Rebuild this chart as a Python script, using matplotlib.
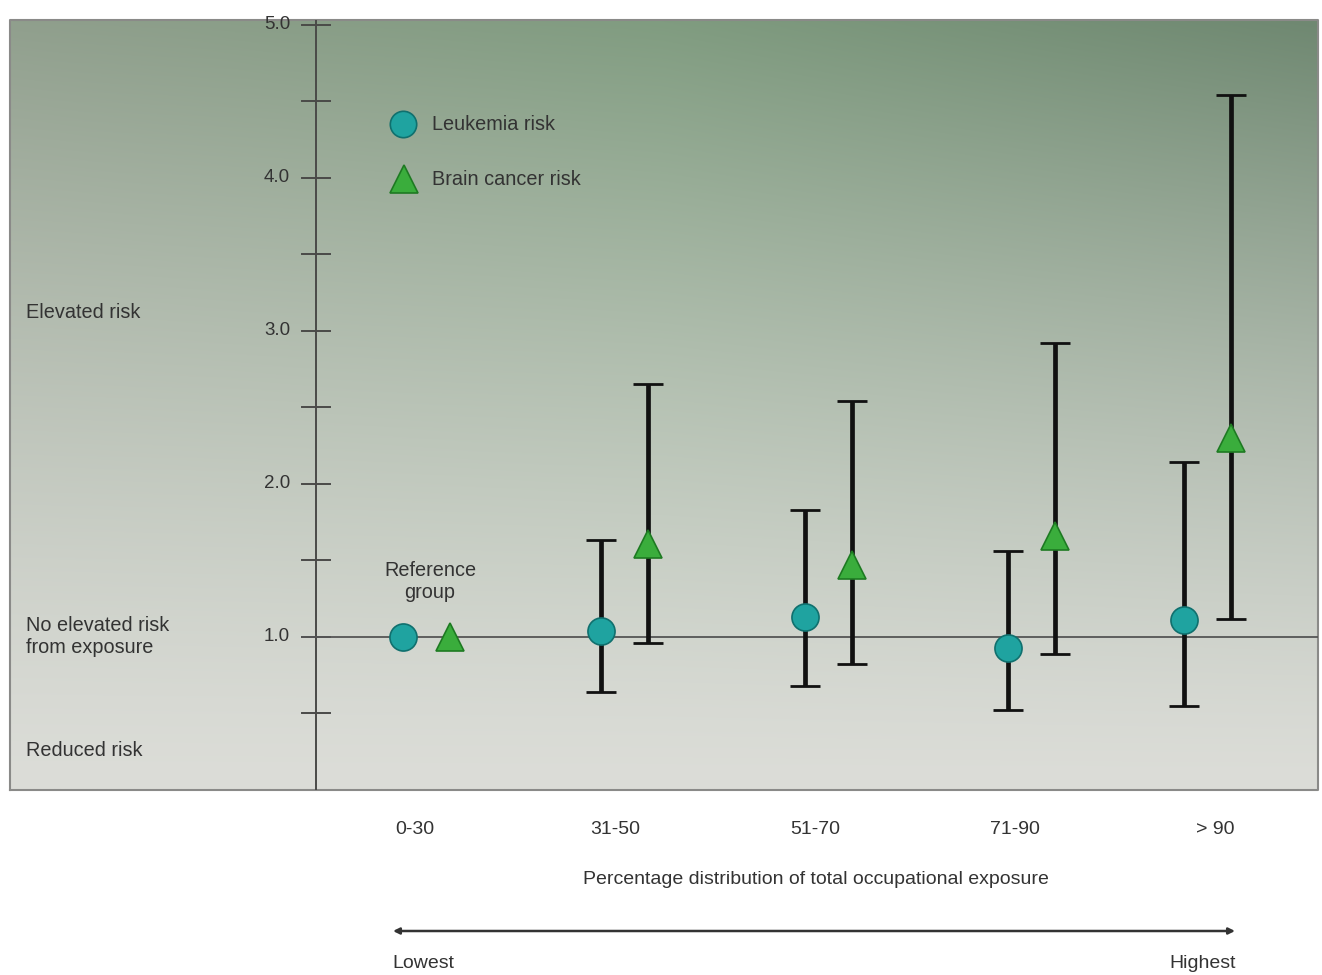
import numpy as np
import matplotlib
matplotlib.use("Agg")
import matplotlib.pyplot as plt
from matplotlib.transforms import blended_transform_factory

plt.rcParams['font.family'] = ['Liberation Sans', 'DejaVu Sans']

categories = ["0-30", "31-50", "51-70", "71-90", "> 90"]
leuk_val = [1.00, 1.04, 1.13, 0.93, 1.11]
leuk_lo = [None, 0.64, 0.68, 0.52, 0.55]
leuk_hi = [None, 1.63, 1.83, 1.56, 2.14]
brain_val = [1.00, 1.61, 1.47, 1.66, 2.30]
brain_lo = [None, 0.96, 0.82, 0.89, 1.12]
brain_hi = [None, 2.65, 2.54, 2.92, 4.54]
major_ticks = [1.0, 2.0, 3.0, 4.0, 5.0]
minor_ticks = [0.5, 1.5, 2.5, 3.5, 4.5]

# layout: centres of the marker pairs (in axis units; labels sit on a regular grid)
group_centres = [0.0, 0.985, 2.005, 3.022, 3.902]

W, H = 1322, 975
fig = plt.figure(figsize=(W / 100, H / 100), dpi=100)
fig.patch.set_facecolor('white')
ax = fig.add_axes([10 / W, (H - 790) / H, 1308 / W, 770 / H])
XMIN, XMAX = -2.085, 4.455
YMAX = 5.03
ax.set_xlim(XMIN, XMAX)
ax.set_ylim(0, YMAX)
ax.axis('off')

# background gradient
ny, nx = 200, 200
yy = np.linspace(1, 0, ny)[:, None]
xx = np.linspace(0, 1, nx)[None, :]
top_l = np.array([0x90, 0x9f, 0x8d]) / 255
top_m = np.array([0x80, 0x9c, 0x80]) / 255
top_r = np.array([0x6f, 0x88, 0x71]) / 255
bot = np.array([0xdc, 0xdd, 0xd8]) / 255
xr = xx[..., None]
top = np.where(xr < 0.5, top_l + (top_m - top_l) * (xr / 0.5),
               top_m + (top_r - top_m) * ((xr - 0.5) / 0.5))
t = (yy ** 1.3)[..., None]
img = bot + (top - bot) * t
ax.imshow(img, extent=[XMIN, XMAX, 0, YMAX], aspect='auto', zorder=0, interpolation='bilinear')
ax.plot([XMIN, XMAX, XMAX, XMIN, XMIN], [0, 0, YMAX, YMAX, 0], color='#8a8a88', lw=1.5, zorder=1, clip_on=False)

# y axis
yax_x = -0.555
ax.plot([yax_x, yax_x], [0, YMAX], color='#4a4a48', lw=1.4, zorder=2)
for v in major_ticks + minor_ticks:
    ax.plot([yax_x - 0.07, yax_x + 0.07], [v, v], color='#4a4a48', lw=1.4, zorder=2)
for v in major_ticks:
    ax.text(yax_x - 0.13, v, f"{v:.1f}", ha='right', va='center', fontsize=13.5, color='#333333', zorder=3)

# reference line
ax.plot([yax_x - 0.07, XMAX], [1.0, 1.0], color='#555555', lw=1.3, zorder=2)

n = len(categories)
xc = np.array(group_centres)
off = 0.1175
leuk_c = '#1fa3a0'
leuk_e = '#10706e'
brain_c = '#3aad3c'
brain_e = '#1e7a22'

for i in range(n):
    if leuk_lo[i] is not None:
        ax.errorbar(xc[i] - off, leuk_val[i],
                    yerr=[[leuk_val[i] - leuk_lo[i]], [leuk_hi[i] - leuk_val[i]]],
                    fmt='none', ecolor='#111111', elinewidth=3.4, capsize=10.5, capthick=2, zorder=4)
    if brain_lo[i] is not None:
        ax.errorbar(xc[i] + off, brain_val[i],
                    yerr=[[brain_val[i] - brain_lo[i]], [brain_hi[i] - brain_val[i]]],
                    fmt='none', ecolor='#111111', elinewidth=3.4, capsize=10.5, capthick=2, zorder=4)

ax.plot(xc - off, leuk_val, 'o', ms=19.5, mfc=leuk_c, mec=leuk_e, mew=1.2, ls='none', zorder=5)
ax.plot(xc + off, brain_val, '^', ms=20, mfc=brain_c, mec=brain_e, mew=1.2, ls='none', zorder=5)

# legend
ax.plot([-0.12], [4.35], 'o', ms=19, mfc=leuk_c, mec=leuk_e, mew=1.2, zorder=5)
ax.plot([-0.115], [3.99], '^', ms=19.5, mfc=brain_c, mec=brain_e, mew=1.2, zorder=5)
ax.text(0.025, 4.35, "Leukemia risk", ha='left', va='center', fontsize=14.3, color='#333333')
ax.text(0.025, 3.99, "Brain cancer risk", ha='left', va='center', fontsize=14.3, color='#333333')

# annotations
ax.text(0.015, 1.36, "Reference\ngroup", ha='center', va='center', fontsize=14.3, color='#333333', linespacing=1.2)
ax.text(-2.005, 3.12, "Elevated risk", ha='left', va='center', fontsize=14.3, color='#333333')
ax.text(-2.005, 1.0, "No elevated risk\nfrom exposure", ha='left', va='center', fontsize=14.3, color='#333333', linespacing=1.2)
ax.text(-2.005, 0.26, "Reduced risk", ha='left', va='center', fontsize=14.3, color='#333333')

# bottom labels
bt = blended_transform_factory(ax.transData, fig.transFigure)
for i, c in enumerate(categories):
    ax.text(i - 0.06, 1 - 829 / H, c, transform=bt, ha='center', va='center', fontsize=14, color='#333333', clip_on=False)
ax.text(1.945, 1 - 879 / H, "Percentage distribution of total occupational exposure",
        transform=bt, ha='center', va='center', fontsize=14, color='#333333', clip_on=False)
ax.annotate('', xy=(-0.17, 1 - 931 / H), xytext=(4.04, 1 - 931 / H), xycoords=bt, textcoords=bt,
            arrowprops=dict(arrowstyle='<|-|>', color='#333333', lw=1.8, mutation_scale=9, shrinkA=0, shrinkB=0),
            annotation_clip=False)
ax.text(-0.175, 1 - 963 / H, "Lowest", transform=bt, ha='left', va='center', fontsize=14, color='#333333', clip_on=False)
ax.text(4.045, 1 - 963 / H, "Highest", transform=bt, ha='right', va='center', fontsize=14, color='#333333', clip_on=False)

fig.savefig('out.png', dpi=100)
